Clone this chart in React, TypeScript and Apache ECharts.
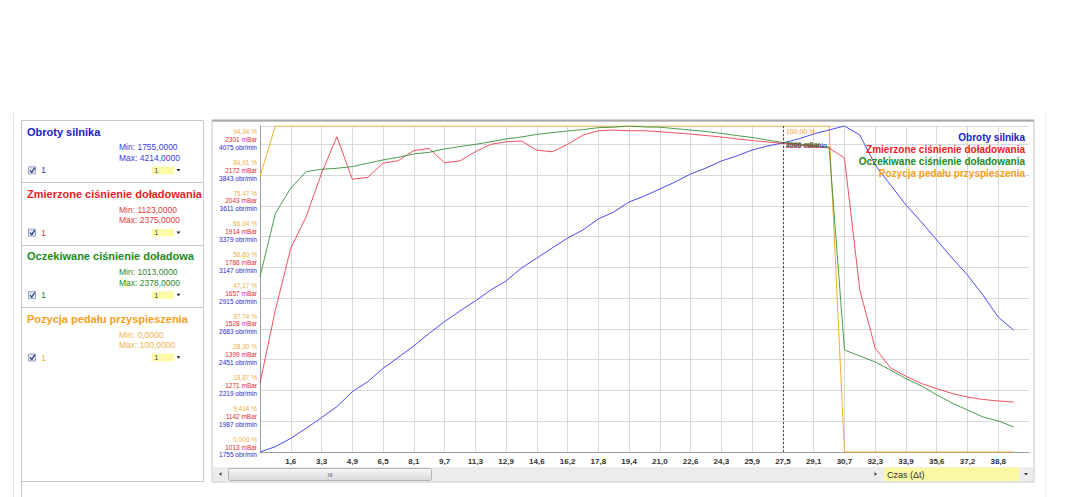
import React, { useEffect, useRef } from 'react';
import * as echarts from 'echarts';

// ---- data (sample index 0..49, one sample every half tick) ----
const TIME_LABELS = ['1,6', '3,3', '4,9', '6,5', '8,1', '9,7', '11,3', '12,9', '14,6', '16,2', '17,8', '19,4',
  '21,0', '22,6', '24,3', '25,9', '27,5', '29,1', '30,7', '32,3', '33,9', '35,6', '37,2', '38,8'];
const TICK_INDEXES = [2, 4, 6, 8, 10, 12, 14, 16, 18, 20, 22, 24, 26, 28, 30, 32, 34, 36, 38, 40, 42, 44, 46, 48];

const RPM = [1755, 1795, 1858, 1934, 2014, 2097, 2210, 2285, 2386, 2469,
  2555, 2650, 2738, 2819, 2894, 2977, 3045, 3143, 3218, 3294,
  3369, 3430, 3513, 3565, 3641, 3686, 3739, 3792, 3852, 3897,
  3950, 3988, 4033, 4063, 4086, 4116, 4154, 4184, 4214, 4146,
  3920, 3769, 3618, 3490, 3354, 3218, 3090, 2939, 2773, 2675];
const BOOST_MEASURED = [1301, 1608, 1866, 1998, 2180, 2333, 2155, 2163, 2222, 2233,
  2275, 2284, 2224, 2232, 2270, 2301, 2312, 2315, 2277, 2270,
  2301, 2340, 2358, 2361, 2358, 2358, 2354, 2349, 2344, 2338,
  2332, 2324, 2317, 2311, 2305, 2298, 2292, 2286, 2244, 1691,
  1448, 1365, 1330, 1300, 1278, 1258, 1243, 1233, 1227, 1222];
const BOOST_EXPECTED = [1747, 2012, 2118, 2187, 2197, 2201, 2208, 2222, 2236, 2247,
  2261, 2268, 2282, 2292, 2301, 2312, 2324, 2332, 2343, 2350,
  2357, 2363, 2371, 2373, 2378, 2374, 2373, 2367, 2361, 2355,
  2347, 2338, 2330, 2319, 2309, 2303, 2296, 2290, 1440, 1415,
  1390, 1356, 1320, 1290, 1252, 1218, 1189, 1160, 1143, 1118];
const PEDAL = [84.5, 100, 100, 100, 100, 100, 100, 100, 100, 100,
  100, 100, 100, 100, 100, 100, 100, 100, 100, 100,
  100, 100, 100, 100, 100, 100, 100, 100, 100, 100,
  100, 100, 100, 100, 100, 100, 100, 100, 0, 0,
  0, 0, 0, 0, 0, 0, 0, 0, 0, 0];

const SERIES_NAMES = ['Obroty silnika', 'Zmierzone ciśnienie doładowania', 'Oczekiwane ciśnienie doładowania', 'Pozycja pedału przyspieszenia'];
const SERIES_MIN = ['1755,0000', '1123,0000', '1013,0000', '0,0000'];
const SERIES_MAX = ['4214,0000', '2375,0000', '2378,0000', '100,0000'];
const RPM_RANGE = [1755, 4214];
const BOOST_RANGE = [1013, 2378];
const PEDAL_RANGE = [0, 100];

const Y_PCT_LABELS = ['0,000 %', '9,434 %', '18,87 %', '28,30 %', '37,74 %', '47,17 %', '56,60 %', '66,04 %', '75,47 %', '84,91 %', '94,34 %'];
const Y_MBAR_LABELS = ['1013 mBar', '1142 mBar', '1271 mBar', '1399 mBar', '1528 mBar', '1657 mBar', '1786 mBar', '1914 mBar', '2043 mBar', '2172 mBar', '2301 mBar'];
const Y_RPM_LABELS = ['1755 obr/min', '1987 obr/min', '2219 obr/min', '2451 obr/min', '2683 obr/min', '2915 obr/min', '3147 obr/min', '3379 obr/min', '3611 obr/min', '3843 obr/min', '4075 obr/min'];

const MARKER_INDEX = 34;
const X_AXIS_NAME = 'Czas (Δt)';

// ---- styles ----
const FONT = '"Liberation Sans", Arial, sans-serif';
const LINE_COLORS = ['#4a4aee', '#ee3344', '#2f8a2f', '#f2b02a'];
const TEXT_COLORS = ['#2020cc', '#ee1c24', '#1e8a1e', '#f5a020'];
const SOFT_COLORS = ['#3c3cd8', '#e83a3a', '#2a8a2a', '#f2b450'];

function buildPanel(): any[] {
  const els: any[] = [];
  const top0 = 120;
  const step = 62.4;
  // outer faint page lines
  els.push({ type: 'line', shape: { x1: 13.5, y1: 113, x2: 13.5, y2: 497 }, style: { stroke: '#e4e4e4', lineWidth: 1 } });
  els.push({ type: 'line', shape: { x1: 1045.5, y1: 113, x2: 1045.5, y2: 497 }, style: { stroke: '#ececec', lineWidth: 1 } });
  // panel box
  els.push({ type: 'rect', shape: { x: 21.5, y: 120.5, width: 182, height: 361 }, style: { fill: 'none', stroke: '#c8c8c8', lineWidth: 1 } });
  els.push({ type: 'line', shape: { x1: 21.5, y1: 481, x2: 21.5, y2: 497 }, style: { stroke: '#c8c8c8', lineWidth: 1 } });
  for (let k = 0; k < 4; k++) {
    const y0 = top0 + k * step;
    if (k > 0) {
      els.push({ type: 'line', shape: { x1: 21.5, y1: Math.round(y0) + 0.5, x2: 203.5, y2: Math.round(y0) + 0.5 }, style: { stroke: '#c8c8c8', lineWidth: 1 } });
    }
    els.push({
      type: 'text', x: 27, y: y0 + 11.5,
      style: { text: SERIES_NAMES[k], fill: TEXT_COLORS[k], fontSize: 11, fontWeight: 'bold', fontFamily: FONT, verticalAlign: 'middle', width: 176, overflow: 'truncate', ellipsis: '' },
    });
    els.push({
      type: 'text', x: 119, y: y0 + 27.3,
      style: { text: 'Min: ' + SERIES_MIN[k], fill: SOFT_COLORS[k], fontSize: 8.5, fontFamily: FONT, verticalAlign: 'middle' },
    });
    els.push({
      type: 'text', x: 119, y: y0 + 37.8,
      style: { text: 'Max: ' + SERIES_MAX[k], fill: SOFT_COLORS[k], fontSize: 8.5, fontFamily: FONT, verticalAlign: 'middle' },
    });
    const cy = y0 + 50.3;
    els.push({ type: 'rect', shape: { x: 28.5, y: cy - 3.5, width: 7, height: 7 }, style: { fill: '#dfe5f2', stroke: '#97a3bf', lineWidth: 1 } });
    els.push({ type: 'polyline', shape: { points: [[30, cy], [31.8, cy + 2], [34.8, cy - 2.6]] }, style: { fill: 'none', stroke: '#243a80', lineWidth: 1.2 } });
    els.push({ type: 'text', x: 41, y: cy, style: { text: '1', fill: SOFT_COLORS[k], fontSize: 9, fontFamily: FONT, verticalAlign: 'middle' } });
    els.push({ type: 'rect', shape: { x: 152, y: cy - 3.8, width: 22, height: 7.6 }, style: { fill: '#fdfaa8', stroke: 'none' } });
    els.push({ type: 'text', x: 154.5, y: cy, style: { text: '1', fill: '#333', fontSize: 6.5, fontFamily: FONT, verticalAlign: 'middle' } });
    els.push({ type: 'polygon', shape: { points: [[176.5, cy - 1.3], [180.5, cy - 1.3], [178.5, cy + 1.2]] }, style: { fill: '#222' } });
  }
  // chart frame
  els.push({ type: 'rect', shape: { x: 212, y: 121, width: 822, height: 361 }, style: { fill: 'none', stroke: '#c4c4c4', lineWidth: 1 } });
  els.push({ type: 'line', shape: { x1: 212, y1: 120.5, x2: 1034, y2: 120.5 }, style: { stroke: '#a8a8a8', lineWidth: 2 } });
  // scrollbar
  els.push({ type: 'rect', shape: { x: 213, y: 467, width: 820, height: 14 }, style: { fill: '#ececec' } });
  els.push({ type: 'polygon', shape: { points: [[221.5, 472], [221.5, 476], [219, 474]] }, style: { fill: '#444' } });
  els.push({
    type: 'rect', shape: { x: 228.5, y: 468.5, width: 203, height: 12, r: 2 },
    style: {
      fill: new echarts.graphic.LinearGradient(0, 0, 0, 1, [{ offset: 0, color: '#f7f7f7' }, { offset: 1, color: '#d9d9d9' }]),
      stroke: '#b4b4b4', lineWidth: 1,
    },
  });
  els.push({ type: 'text', x: 330, y: 474.5, style: { text: 'III', fill: '#555', fontSize: 6, fontFamily: FONT, align: 'center', verticalAlign: 'middle' } });
  els.push({ type: 'polygon', shape: { points: [[874.5, 472], [874.5, 476], [877, 474]] }, style: { fill: '#444' } });
  els.push({ type: 'rect', shape: { x: 884, y: 467.5, width: 135, height: 13.5 }, style: { fill: '#fbf8a4' } });
  els.push({ type: 'text', x: 887, y: 474.5, style: { text: X_AXIS_NAME, fill: '#333', fontSize: 9, fontFamily: FONT, verticalAlign: 'middle' } });
  els.push({ type: 'polygon', shape: { points: [[1024, 473], [1028, 473], [1026, 475.5]] }, style: { fill: '#333' } });
  return els.map((e) => ({ ...e, silent: true }));
}

export default function App() {
  const ref = useRef<HTMLDivElement>(null);
  useEffect(() => {
    if (!ref.current) return;
    const chart = echarts.init(ref.current, null, { renderer: 'svg' });
    const yStep = 100 / 10.6;
    const markerLabel = (txt: string, color: string, dy: number) => ({
      symbol: 'circle', symbolSize: 0, silent: true,
      label: { show: true, position: 'right', distance: 3, offset: [0, dy], formatter: txt, color, fontSize: 7, fontFamily: FONT },
    });
    const seriesData = [RPM, BOOST_MEASURED, BOOST_EXPECTED, PEDAL];
    const axisFor = [2, 1, 1, 0];
    const markerTexts = [
      RPM[MARKER_INDEX] + ' obr/min',
      BOOST_MEASURED[MARKER_INDEX] + ' mBar',
      BOOST_EXPECTED[MARKER_INDEX] + ' mBar',
      PEDAL[MARKER_INDEX].toFixed(2).replace('.', ',') + ' %',
    ];
    const markerDy = [3, 2, 2, 5];
    const order = [3, 0, 1, 2];
    const series = order.map((k) => ({
      name: SERIES_NAMES[k],
      type: 'line',
      yAxisIndex: axisFor[k],
      data: seriesData[k].map((v, i) => [i, v]),
      showSymbol: false,
      symbol: 'none',
      lineStyle: { color: LINE_COLORS[k], width: 1, opacity: k === 1 || k === 2 ? 0.85 : 1 },
      itemStyle: { color: LINE_COLORS[k] },
      z: k === 3 ? 1 : 2,
      markPoint: {
        data: [{ coord: [MARKER_INDEX, seriesData[k][MARKER_INDEX]], ...markerLabel(markerTexts[k], TEXT_COLORS[k], markerDy[k]) }],
      },
      ...(k === 0 ? {
        markLine: {
          silent: true, symbol: 'none',
          label: { show: false },
          lineStyle: { color: '#444', type: [2, 2], width: 1 },
          data: [{ xAxis: MARKER_INDEX }],
        },
      } : {}),
    }));

    chart.setOption({
      animation: false,
      backgroundColor: '#ffffff',
      textStyle: { fontFamily: FONT },
      grid: { left: 260, top: 126, width: 769, height: 326, containLabel: false },
      legend: {
        orient: 'vertical', right: 39, top: 127, align: 'right', icon: 'none',
        itemWidth: 0, itemHeight: 10, itemGap: 2.2, selectedMode: false,
        textStyle: { fontSize: 10, fontWeight: 'bold', fontFamily: FONT, padding: 0 },
        data: SERIES_NAMES.map((n, k) => ({ name: n, textStyle: { color: TEXT_COLORS[k] } })),
      },
      xAxis: {
        type: 'value', min: 0, max: 50,
        axisLine: { show: true, onZero: false, lineStyle: { color: '#a0a0a0' } },
        axisTick: { show: false, customValues: TICK_INDEXES },
        splitLine: { show: true, lineStyle: { color: '#d9d9d9', width: 1 } },
        axisLabel: {
          customValues: TICK_INDEXES,
          formatter: (v: number) => TIME_LABELS[TICK_INDEXES.indexOf(Math.round(v))] ?? '',
          fontSize: 8, fontWeight: 'bold', color: '#333', margin: 5, fontFamily: FONT,
        },
      },
      yAxis: [
        {
          type: 'value', min: PEDAL_RANGE[0], max: PEDAL_RANGE[1], interval: yStep,
          axisLine: { show: true, lineStyle: { color: '#a0a0a0' } },
          axisTick: { show: false },
          splitLine: { show: true, lineStyle: { color: '#d9d9d9', width: 1 } },
          axisLabel: {
            showMaxLabel: false,
            margin: 3,
            align: 'right',
            padding: [0, 0, 10, 0],
            formatter: (v: number) => {
              const i = Math.round(v / yStep);
              if (i < 0 || i > 10) return '';
              return `{p|${Y_PCT_LABELS[i]}}\n{m|${Y_MBAR_LABELS[i]}}\n{r|${Y_RPM_LABELS[i]}}`;
            },
            rich: {
              p: { color: '#f2b040', fontSize: 6.5, lineHeight: 7.8, fontFamily: FONT, align: 'right' },
              m: { color: '#e82a2a', fontSize: 6.5, lineHeight: 7.8, fontFamily: FONT, align: 'right' },
              r: { color: '#2828d0', fontSize: 6.5, lineHeight: 7.8, fontFamily: FONT, align: 'right' },
            },
          },
        },
        { type: 'value', min: BOOST_RANGE[0], max: BOOST_RANGE[1], show: false, splitLine: { show: false } },
        { type: 'value', min: RPM_RANGE[0], max: RPM_RANGE[1], show: false, splitLine: { show: false } },
      ],
      graphic: { elements: buildPanel() },
      series,
    });
    return () => chart.dispose();
  }, []);
  return (
    <div
      ref={ref}
      style={{ position: 'fixed', left: 0, top: 0, width: 1074, height: 497, background: '#fff' }}
    />
  );
}
